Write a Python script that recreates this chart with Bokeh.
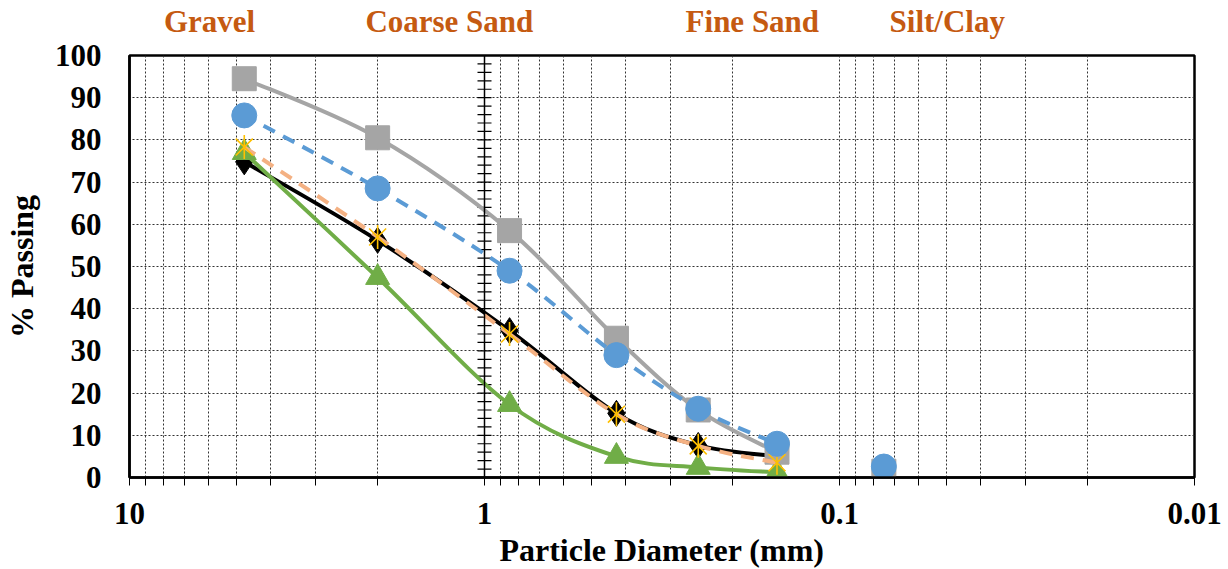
import numpy as np
from bokeh.plotting import figure
from bokeh.models import (FixedTicker, CustomJSTickFormatter, Span, ColumnDataSource, LogAxis)
from bokeh.embed import file_html
from bokeh.resources import INLINE

# ---------------- data ----------------
sieve_mm = [4.75, 2.0, 0.85, 0.425, 0.25, 0.15, 0.075]
gray_pass = [94.5, 80.5, 58.5, 33.0, 16.0, 6.0, 1.5]
blue_pass = [85.8, 68.5, 49.0, 29.0, 16.3, 8.0, 2.6]
black_pass = [74.8, 56.2, 34.8, 15.2, 7.6, 5.0, 1.0]
salmon_pass = [78.3, 57.0, 34.0, 15.0, 7.5, 3.5, 0.5]
green_pass = [77.0, 47.4, 17.3, 5.0, 2.4, 1.2, 0.0]

x_major_ticks = [10, 1, 0.1, 0.01]
y_ticks = list(range(0, 101, 10))
zone_names = ["Gravel", "Coarse Sand", "Fine Sand", "Silt/Clay"]
zone_label_x = [5.95, 1.256, 0.176, 0.0497]

FONT = "Liberation Serif"
PX_DECADE = 1065 / 3.0
PX_UNIT = 422 / 100.0

p = figure(x_axis_type="log", x_range=(10, 0.01), y_range=(0, 100),
           frame_width=1065, frame_height=422,
           min_border_left=126, min_border_top=55, min_border_right=37, min_border_bottom=60,
           output_backend="svg", toolbar_location=None)
p.background_fill_color = "white"
p.border_fill_color = "white"
p.outline_line_color = "black"
p.outline_line_width = 2.5

minor = [k * 10.0 ** e for e in (-2, -1, 0) for k in range(2, 10)]
p.xaxis.ticker = FixedTicker(ticks=x_major_ticks, minor_ticks=minor)
p.xaxis.formatter = CustomJSTickFormatter(code="return tick.toString();")
p.yaxis.ticker = FixedTicker(ticks=y_ticks)

for ax in (p.xaxis[0], p.yaxis[0]):
    ax.axis_line_color = "black"
    ax.axis_line_width = 2.5
    ax.major_label_text_font = FONT
    ax.major_label_text_font_style = "bold"
    ax.major_label_text_font_size = "31px"
    ax.major_label_text_color = "black"
    ax.axis_label_text_font = FONT
    ax.axis_label_text_font_style = "bold"
    ax.axis_label_text_font_size = "32px"
    ax.axis_label_text_color = "black"

p.xaxis.major_tick_out = 8
p.xaxis.major_tick_in = 0
p.xaxis.minor_tick_out = 8
p.xaxis.minor_tick_in = 0
p.xaxis.major_tick_line_color = "black"
p.xaxis.minor_tick_line_color = "black"
p.xaxis.major_label_standoff = 17
p.xaxis.axis_label = "Particle Diameter (mm)"
p.xaxis.axis_label_standoff = 5

p.yaxis.major_tick_out = 0
p.yaxis.major_tick_in = 0
p.yaxis.minor_tick_line_color = None
p.yaxis.major_label_standoff = 28
p.yaxis.axis_label = "% Passing"
p.yaxis.axis_label_standoff = 12

# zone names above the plot
top = LogAxis(ticker=FixedTicker(ticks=zone_label_x, minor_ticks=[]),
              formatter=CustomJSTickFormatter(args=dict(xs=zone_label_x, names=zone_names), code="""
                  let best = 0;
                  const lt = Math.log10(tick);
                  for (let i = 0; i < xs.length; i++) {
                      if (Math.abs(Math.log10(xs[i]) - lt) < Math.abs(Math.log10(xs[best]) - lt)) best = i;
                  }
                  return names[best];
              """))
top.axis_line_color = None
top.major_tick_line_color = None
top.minor_tick_line_color = None
top.major_tick_out = 0
top.major_tick_in = 0
top.minor_tick_out = 0
top.minor_tick_in = 0
top.major_label_text_font = FONT
top.major_label_text_font_style = "bold"
top.major_label_text_font_size = "31px"
top.major_label_text_color = "#C55A11"
top.major_label_standoff = 17
p.add_layout(top, "above")

p.xgrid.grid_line_color = "#333333"
p.xgrid.grid_line_dash = "2 2"
p.xgrid.grid_line_width = 1
p.xgrid.minor_grid_line_color = "#333333"
p.xgrid.minor_grid_line_dash = "2 2"
p.xgrid.minor_grid_line_width = 1
p.ygrid.grid_line_color = "#333333"
p.ygrid.grid_line_dash = "2 2"
p.ygrid.grid_line_width = 1

# vertical crossing axis at x = 1 with ticks every 2 %
p.add_layout(Span(location=1, dimension="height", line_color="black", line_width=1.5))
mt = list(range(0, 101, 2))
off = 10 ** (7.0 / PX_DECADE)
p.segment(x0=[off] * len(mt), x1=[1 / off] * len(mt), y0=mt, y1=mt,
          line_color="black", line_width=1.2)


def bezier_parts(xs, ys):
    U = -np.log10(np.asarray(xs, float)) * PX_DECADE
    V = np.asarray(ys, float) * PX_UNIT
    n = len(U)
    out = dict(x0=[], y0=[], x1=[], y1=[], cx0=[], cy0=[], cx1=[], cy1=[])
    for i in range(n - 1):
        a = i - 1 if i > 0 else i
        b = i + 2 if i + 2 < n else i + 1
        c1u = U[i] + (U[i + 1] - U[a]) / 6
        c1v = V[i] + (V[i + 1] - V[a]) / 6
        c2u = U[i + 1] - (U[b] - U[i]) / 6
        c2v = V[i + 1] - (V[b] - V[i]) / 6
        out["x0"].append(10 ** (-U[i] / PX_DECADE)); out["y0"].append(V[i] / PX_UNIT)
        out["x1"].append(10 ** (-U[i + 1] / PX_DECADE)); out["y1"].append(V[i + 1] / PX_UNIT)
        out["cx0"].append(10 ** (-c1u / PX_DECADE)); out["cy0"].append(c1v / PX_UNIT)
        out["cx1"].append(10 ** (-c2u / PX_DECADE)); out["cy1"].append(c2v / PX_UNIT)
    return ColumnDataSource(out)


def series(vals, color, dash, marker, size, mcolor):
    src = bezier_parts(sieve_mm[:6], vals[:6])
    p.bezier(x0="x0", y0="y0", x1="x1", y1="y1", cx0="cx0", cy0="cy0", cx1="cx1", cy1="cy1",
             source=src, line_color=color, line_width=4, line_dash=dash)
    if marker == "star":
        p.scatter(sieve_mm, vals, marker="x", size=size, line_color=mcolor, line_width=1.6)
        p.scatter(sieve_mm, vals, marker="dash", angle=np.pi / 2, size=size,
                  line_color=mcolor, line_width=1.6)
    else:
        p.scatter(sieve_mm, vals, marker=marker, size=size, fill_color=mcolor,
                  line_color=mcolor, line_width=1)


series(black_pass, "black", "solid", "diamond", 26, "black")
series(green_pass, "#70AD47", "solid", "triangle", 24, "#70AD47")
series(gray_pass, "#A5A5A5", "solid", "square", 24, "#A5A5A5")
series(salmon_pass, "#F4B183", "13 9", "star", 24, "#FFC000")
series(blue_pass, "#5B9BD5", "13 9", "circle", 25, "#5B9BD5")

open("out.html", "w").write(file_html(p, INLINE))
